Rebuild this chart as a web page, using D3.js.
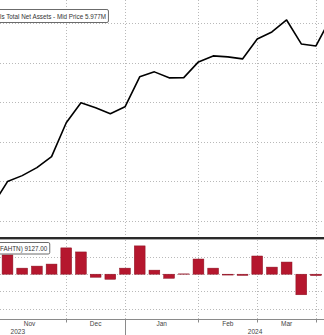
<!DOCTYPE html>
<html>
<head>
<meta charset="utf-8">
<script src="https://cdn.jsdelivr.net/npm/d3@7"></script>
<style>
  html, body { margin: 0; padding: 0; background: #fff; }
  svg { display: block; }
  text { font-family: "Liberation Sans", Arial, sans-serif; }
</style>
</head>
<body>
<svg id="chart" width="324" height="335"></svg>
<script>
// Weekly (Wednesday) observations
const weeks = [
  "2023-11-01", "2023-11-08", "2023-11-15", "2023-11-22", "2023-11-29",
  "2023-12-06", "2023-12-13", "2023-12-20", "2023-12-27",
  "2024-01-03", "2024-01-10", "2024-01-17", "2024-01-24", "2024-01-31",
  "2024-02-07", "2024-02-14", "2024-02-21", "2024-02-28",
  "2024-03-06", "2024-03-13", "2024-03-20", "2024-03-27",
  "2024-04-03", "2024-04-10", "2024-04-17", "2024-04-24"
];

// Money market funds total net assets (USD millions)
const totalAssets = [
  5640000, 5699500, 5714600, 5734800, 5762500,
  5848000, 5898500, 5885900, 5870800,
  5888400, 5964000, 5976600, 5961500, 5962000,
  6001800, 6016900, 6014400, 6009300,
  6059700, 6077300, 6107600, 6047100,
  6042100, 6112600, 5967900, 5977000
];

// Weekly change (USD millions); first week has no prior reading
const weeklyChange = [
  null, 55900, 17600, 23500, 29400,
  76500, 64700, -8800, -14700,
  17600, 82300, 11800, -11800, 900,
  44100, 17600, -2500, -3500,
  52900, 20600, 35300, -59800,
  -4000, 68000, -144000, 9127
];

const assetTicks = [5600000, 5700000, 5800000, 5900000, 6000000, 6100000];
const changeTicks = [-100000, -50000, 0, 50000];

const assetLabel = "ls Total Net Assets - Mid Price ";
const changeLabel = "FAHTN)  ";

// Visible window of the full chart, in weeks from the first observation
const windowWeeks = [-5.6, 26.7];

const W = 324, H = 335;
const svg = d3.select("#chart");

const parse = d3.timeParse("%Y-%m-%d");
const dates = weeks.map(parse);

const x = d3.scaleLinear().domain([0, weeks.length - 1]).range([-7.2, 360.05]);

const yTop = d3.scaleLinear().domain([5600000, 6100000]).range([221, 23]);
const yBot = d3.scaleLinear().domain([-100000, 50000]).range([308.6, 257]);

const topPanel = { y0: 0, y1: 237 };
const botPanel = { y0: 239.5, y1: 319 };

const defs = svg.append("defs");
defs.append("clipPath").attr("id", "clipTop")
  .append("rect").attr("x", 0).attr("y", topPanel.y0).attr("width", W).attr("height", topPanel.y1 - topPanel.y0);
defs.append("clipPath").attr("id", "clipBot")
  .append("rect").attr("x", 0).attr("y", botPanel.y0).attr("width", W).attr("height", botPanel.y1 - botPanel.y0);

// Month boundaries: first observation of each month
const monthStarts = [];
dates.forEach((d, i) => {
  if (i === 0 || d.getMonth() !== dates[i - 1].getMonth()) monthStarts.push(i);
});

const gridColor = "#b9b9b9";
const grid = svg.append("g").attr("stroke", gridColor).attr("stroke-width", 1)
  .attr("stroke-dasharray", "1,2").attr("fill", "none");

// Vertical gridlines through both panels
monthStarts.forEach(i => {
  const xx = Math.round(x(i)) + 0.5;
  if (xx < 0 || xx > W) return;
  grid.append("line").attr("x1", xx).attr("x2", xx).attr("y1", 0).attr("y2", botPanel.y1);
});

// Horizontal gridlines
assetTicks.forEach(v => {
  const yy = Math.round(yTop(v)) + 0.5;
  grid.append("line").attr("x1", 0).attr("x2", W).attr("y1", yy).attr("y2", yy);
});
changeTicks.forEach(v => {
  const yy = Math.round(yBot(v)) + 0.5;
  grid.append("line").attr("x1", 0).attr("x2", W).attr("y1", yy).attr("y2", yy);
});

// Total net assets line
const line = d3.line().x((d, i) => x(i)).y(d => yTop(d));
svg.append("g").attr("clip-path", "url(#clipTop)")
  .append("path").datum(totalAssets)
  .attr("d", line)
  .attr("fill", "none")
  .attr("stroke", "#000")
  .attr("stroke-width", 1.6)
  .attr("stroke-linejoin", "round");

// Weekly change bars
const barW = 10.8;
svg.append("g").attr("clip-path", "url(#clipBot)")
  .selectAll("rect")
  .data(weeklyChange.map((v, i) => ({ v, i })).filter(d => d.v !== null))
  .join("rect")
  .attr("x", d => x(d.i) - barW / 2)
  .attr("width", barW)
  .attr("y", d => Math.min(yBot(d.v), yBot(0)))
  .attr("height", d => Math.abs(yBot(d.v) - yBot(0)))
  .attr("fill", "#b5172e")
  .attr("stroke", "#8a1222")
  .attr("stroke-width", 0.5);

// Panel separator and bottom axis line
svg.append("rect").attr("x", 0).attr("y", topPanel.y1).attr("width", W).attr("height", 2.4).attr("fill", "#2a2a2a");
svg.append("line").attr("x1", 0).attr("x2", W).attr("y1", botPanel.y1 + 0.5).attr("y2", botPanel.y1 + 0.5)
  .attr("stroke", "#8a8a8a").attr("stroke-width", 1);

// Tick marks; year boundary gets a long tick
const ticks = svg.append("g").attr("stroke", "#8a8a8a").attr("stroke-width", 1);
monthStarts.forEach(i => {
  const xx = Math.round(x(i)) + 0.5;
  if (xx < 0 || xx > W) return;
  const yearStart = i > 0 && dates[i].getFullYear() !== dates[i - 1].getFullYear();
  ticks.append("line").attr("x1", xx).attr("x2", xx)
    .attr("y1", botPanel.y1).attr("y2", yearStart ? H : botPanel.y1 + 3.5);
});

// Labels are only kept when they sit fully inside the view
const axisText = svg.append("g").attr("fill", "#444").attr("font-size", 6.5).attr("text-anchor", "middle");
function axisLabel(cx, cy, str) {
  const t = axisText.append("text").attr("x", cx).attr("y", cy).text(str);
  const w = t.node().getComputedTextLength();
  if (cx - w / 2 < 0 || cx + w / 2 > W) t.remove();
}

// Month labels centred on each month's span
const monthFmt = d3.timeFormat("%b");
monthStarts.forEach((i, k) => {
  const end = k + 1 < monthStarts.length ? monthStarts[k + 1] : weeks.length;
  axisLabel((x(i) + x(end)) / 2, 326, monthFmt(dates[i]));
});

// Year labels centred on each year's span within the window
const years = d3.groups(dates.map((d, i) => ({ d, i })), e => e.d.getFullYear());
years.forEach(([yr, arr]) => {
  const first = arr[0].i;
  const last = arr[arr.length - 1].i + 1;
  const a = first === 0 ? windowWeeks[0] : first;
  const b = last === weeks.length ? windowWeeks[1] : last;
  axisLabel(x((a + b) / 2), 334, String(yr));
});

// Legend boxes with last values
function legendBox(text, boxY, boxH, textY) {
  const g = svg.append("g");
  const t = g.append("text").attr("x", 0).attr("y", textY)
    .attr("font-size", 6.3).attr("fill", "#333").text(text);
  const w = t.node().getComputedTextLength();
  g.insert("rect", "text")
    .attr("x", -3).attr("y", boxY).attr("width", w + 5.5).attr("height", boxH)
    .attr("rx", 1.5)
    .attr("fill", "#fff").attr("stroke", "#5a5a5a").attr("stroke-width", 0.9);
}
legendBox(assetLabel + d3.format(".4s")(totalAssets[totalAssets.length - 1]), 9.5, 13, 18.6);
legendBox(changeLabel + d3.format(".2f")(weeklyChange[weeklyChange.length - 1]), 242.5, 11.5, 250.6);
</script>
</body>
</html>
